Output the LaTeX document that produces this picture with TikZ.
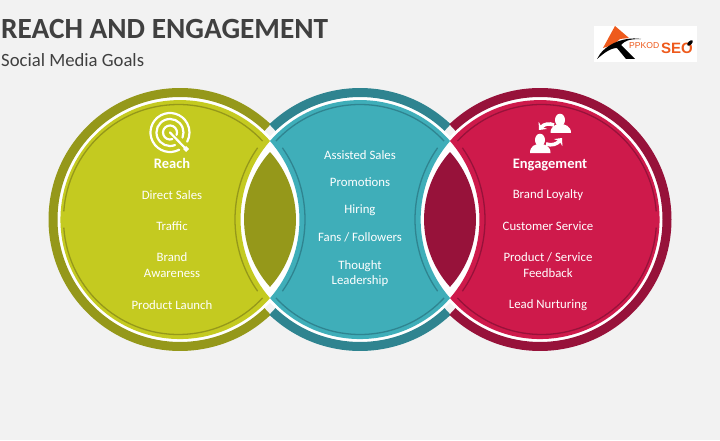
\documentclass[tikz,border=0pt]{standalone}
\usepackage{fontspec}
\usetikzlibrary{arrows.meta}
\setmainfont{Carlito}
\newfontfamily\logofont{Liberation Sans}
\definecolor{bgc}{HTML}{F2F2F2}
\definecolor{limec}{HTML}{C4CA20}
\definecolor{olivec}{HTML}{95981A}
\definecolor{tealc}{HTML}{3FAEB9}
\definecolor{teald}{HTML}{2F8490}
\definecolor{pinkc}{HTML}{CE1A4B}
\definecolor{pinkd}{HTML}{97123A}
\definecolor{inkc}{HTML}{404040}
\definecolor{orangec}{HTML}{EE5A1C}
\tikzset{
  ringarc/.style={line width=9pt,line cap=butt},
  thinarc/.style={line width=1.3pt},
  body/.style={text=white,font=\fontsize{12.8}{15.5}\selectfont,align=center,inner sep=0pt,anchor=center},
  head/.style={text=white,font=\fontsize{14.5}{16}\selectfont\bfseries,align=center,inner sep=0pt,anchor=center},
  iconline/.style={white,line width=2.2pt,line cap=round},
  swaparrow/.style={white,line width=3.6pt,-{Stealth[length=6pt,width=11pt]}}
}
\begin{document}
\begin{tikzpicture}[x=1pt,y=1pt]
\useasboundingbox (0,0) rectangle (720,440);
\fill[bgc] (0,0) rectangle (720,440);
% title
\node[anchor=west,inner sep=0pt,text=inkc,font=\fontsize{29.3}{34}\selectfont\bfseries] (title) at (1,411.5) {REACH AND ENGAGEMENT};
\node[anchor=west,inner sep=0pt,text=inkc,font=\fontsize{18.7}{22}\selectfont] (subtitle) at (1,380) {Social Media Goals};
% logo
\fill[white] (594,378) rectangle (697,414);
\fill[orangec] (615,414) -- (603,392) -- (613,395) -- (620,401) -- (629,402) -- cycle;
\fill[black] (597,381) .. controls (603,394) and (622,404) .. (641,401) .. controls (628,401) and (625,399) .. (621,395) -- (635,381) -- (626,381) -- (617,392) .. controls (610,392) and (603,386) .. (597,381) -- cycle;
\node[anchor=west,inner sep=0pt,text=orangec,font=\logofont\fontsize{8.6}{10}\selectfont] (logoa) at (629,394.5) {PPKOD};
\node[anchor=west,inner sep=0pt,text=orangec,font=\logofont\fontsize{15}{16}\selectfont\bfseries] (logob) at (661,391.5) {SEO};
\fill[black,rotate around={45:(690,397)}] (690,397) ellipse[x radius=3.5,y radius=1.8];
% white backing
\fill[white] (180,220.5) circle[radius=122.5];
\fill[white] (360,220.5) circle[radius=122.5];
\fill[white] (540,220.5) circle[radius=122.5];
% outer rings
\draw[ringarc,olivec] (180,220.5) ++(46.4:127) arc[start angle=46.4,end angle=313.6,radius=127];
\draw[ringarc,teald] (360,220.5) ++(133.6:127) arc[start angle=133.6,end angle=46.4,radius=127];
\draw[ringarc,teald] (360,220.5) ++(313.6:127) arc[start angle=313.6,end angle=226.4,radius=127];
\draw[ringarc,pinkd] (540,220.5) ++(133.6:127) arc[start angle=133.6,end angle=-133.6,radius=127];
% crescents
\fill[limec] (270,299) arc[start angle=41.1,end angle=318.9,radius=119.5] arc[start angle=221.1,end angle=138.9,radius=119.5] -- cycle;
\fill[tealc] (270,299) arc[start angle=138.9,end angle=41.1,radius=119.5]
  arc[start angle=138.9,end angle=221.1,radius=119.5]
  arc[start angle=318.9,end angle=221.1,radius=119.5]
  arc[start angle=318.9,end angle=401.1,radius=119.5] -- cycle;
\fill[pinkc] (450,299) arc[start angle=138.9,end angle=-138.9,radius=119.5] arc[start angle=318.9,end angle=401.1,radius=119.5] -- cycle;
% lenses
\fill[olivec] (270,288) arc[start angle=42.1,end angle=-42.1,radius=100.6] arc[start angle=222.1,end angle=137.9,radius=100.6] -- cycle;
\fill[pinkd] (450,288) arc[start angle=42.1,end angle=-42.1,radius=100.6] arc[start angle=222.1,end angle=137.9,radius=100.6] -- cycle;
% thin inner lines
\draw[thinarc,olivec] (178.5,220.5) ++(43:115) arc[start angle=43,end angle=176,radius=115];
\draw[thinarc,olivec] (178.5,220.5) ++(184:115) arc[start angle=184,end angle=317,radius=115];
\draw[thinarc,olivec] (360,220.5) ++(145:125) arc[start angle=145,end angle=215,radius=125];
\draw[thinarc,teald] (360,220.5) ++(137:115) arc[start angle=137,end angle=43,radius=115];
\draw[thinarc,teald] (360,220.5) ++(317:115) arc[start angle=317,end angle=223,radius=115];
\draw[thinarc,teald] (180,220.5) ++(35:125) arc[start angle=35,end angle=-35,radius=125];
\draw[thinarc,teald] (540,220.5) ++(145:125) arc[start angle=145,end angle=215,radius=125];
\draw[thinarc,pinkd] (541.5,220.5) ++(137:115) arc[start angle=137,end angle=4,radius=115];
\draw[thinarc,pinkd] (541.5,220.5) ++(-4:115) arc[start angle=-4,end angle=-137,radius=115];
\draw[thinarc,pinkd] (360,220.5) ++(35:125) arc[start angle=35,end angle=-35,radius=125];
% target icon
\draw[iconline] (170,307.5) ++(-62:19.5) arc[start angle=-62,end angle=-388,radius=19.5];
\draw[iconline] (170,307.5) ++(-68:13.5) arc[start angle=-68,end angle=-382,radius=13.5];
\draw[iconline] (170,307.5) ++(-70:7) arc[start angle=-70,end angle=-380,radius=7];
\draw[iconline] (170,307.5) -- (186,291);
\fill[white] (186,294) -- (189,291) -- (186,288) -- (183,291) -- cycle;
% engagement icon: people
\fill[white] (560,320) ellipse[x radius=5,y radius=6.3];
\fill[white] (550.5,307) .. controls (550.5,314) and (556,316) .. (560,316) .. controls (565,316) and (571,314) .. (571,307) -- cycle;
\fill[white] (540,300) ellipse[x radius=5,y radius=6.3];
\fill[white] (530,287) .. controls (530,294) and (535,296) .. (540,296) .. controls (545,296) and (550.5,294) .. (550.5,287) -- cycle;
% engagement icon: arrows
\draw[swaparrow] (554,315) .. controls (549,317) and (544,316) .. (539,310);
\draw[swaparrow] (546,296) .. controls (552,294) and (557,296) .. (562,302);
% texts
\node[head] (h1) at (172,276.5) {Reach};
\node[body] (a1) at (172,244.5) {Direct Sales};
\node[body] (a2) at (172,213.5) {Traffic};
\node[body] (a3) at (172,175) {Brand\\Awareness};
\node[body] (a4) at (172,134.5) {Product Launch};
\node[body] (b1) at (360,285) {Assisted Sales};
\node[body] (b2) at (360,258) {Promotions};
\node[body] (b3) at (360,230) {Hiring};
\node[body] (b4) at (360,203) {Fans / Followers};
\node[body] (b5) at (360,166.5) {Thought\\Leadership};
\node[head] (h3) at (550,274.5) {Engagement};
\node[body] (c1) at (548,244.5) {Brand Loyalty};
\node[body] (c2) at (548,213.5) {Customer Service};
\node[body] (c3) at (548,175) {Product / Service\\Feedback};
\node[body] (c4) at (548,134.5) {Lead Nurturing};
\end{tikzpicture}
\end{document}
